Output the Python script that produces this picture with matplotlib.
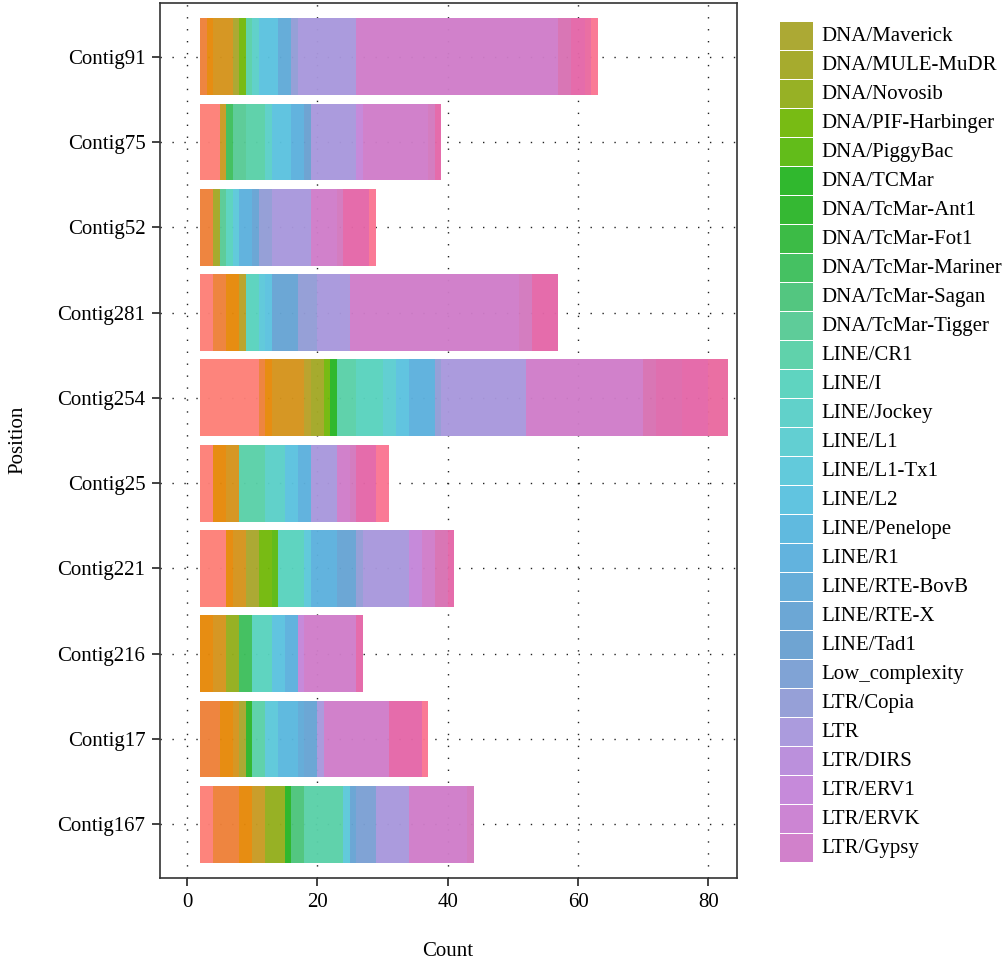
import numpy as np
import matplotlib.pyplot as plt
from matplotlib.patches import Rectangle

plt.rcParams['font.family'] = ['Liberation Serif', 'DejaVu Serif']

# repeat classes in factor order (stacking order, left to right)
categories = [
    "DNA", "DNA/CMC-EnSpm", "DNA/Crypton", "DNA/Ginger", "DNA/hAT", "DNA/hAT-Ac",
    "DNA/hAT-Charlie", "DNA/hAT-Tip100",
    "DNA/Maverick", "DNA/MULE-MuDR", "DNA/Novosib", "DNA/PIF-Harbinger", "DNA/PiggyBac",
    "DNA/TCMar", "DNA/TcMar-Ant1", "DNA/TcMar-Fot1", "DNA/TcMar-Mariner",
    "DNA/TcMar-Sagan", "DNA/TcMar-Tigger",
    "LINE/CR1", "LINE/I", "LINE/Jockey", "LINE/L1", "LINE/L1-Tx1", "LINE/L2",
    "LINE/Penelope", "LINE/R1", "LINE/RTE-BovB", "LINE/RTE-X", "LINE/Tad1",
    "Low_complexity", "LTR/Copia", "LTR", "LTR/DIRS", "LTR/ERV1", "LTR/ERVK", "LTR/Gypsy",
    "LTR/Ngaro", "LTR/Pao", "RC/Helitron", "Satellite", "Simple_repeat", "SINE/Alu", "Unknown",
]
# only this slice of the key is shown
legend_from, legend_to = "DNA/Maverick", "LTR/Gypsy"

colors = [
    "#FD7F77", "#F47F55", "#EE8038", "#E68808", "#DE8E12", "#D5931B", "#C89A22", "#B8A026",
    "#A9A62B", "#A3A825", "#93AE1C", "#72B80A", "#5CBA10", "#27B525", "#2DB52A",
    "#34B83E", "#3DBF5B", "#4CC47B", "#57CA95",
    "#59D0A8", "#58D3BE", "#5ACFC8", "#5CCDD0", "#5BC8DA", "#5AC2DF", "#59B7DE",
    "#5CB0DD", "#60AAD8", "#66A4D4", "#69A0D1",
    "#7B9FD4", "#929CD6", "#A897DC", "#B98CDB", "#C485D9", "#CA80D2", "#CF7CC9",
    "#D378BE", "#D870B2", "#DE69AC", "#E466A8", "#EA699F", "#F27096", "#FA7592",
]

contigs = ["Contig167", "Contig17", "Contig216", "Contig221", "Contig25",
           "Contig254", "Contig281", "Contig52", "Contig75", "Contig91"]
start = 2  # bars begin at position 2

contig167 = {"DNA": 2, "DNA/Crypton": 4, "DNA/Ginger": 2, "DNA/hAT-Charlie": 2,
             "DNA/Novosib": 3, "DNA/TCMar": 1, "DNA/TcMar-Sagan": 2, "LINE/CR1": 6,
             "LINE/L1-Tx1": 1, "LINE/RTE-X": 1, "Low_complexity": 3, "LTR": 5,
             "LTR/Gypsy": 9, "LTR/Ngaro": 1}
contig17 = {"DNA/Crypton": 3, "DNA/Ginger": 2, "DNA/hAT-Ac": 1, "DNA/Maverick": 1,
            "DNA/TcMar-Ant1": 1, "LINE/CR1": 2, "LINE/L1-Tx1": 2, "LINE/Penelope": 3,
            "LINE/RTE-BovB": 1, "LINE/RTE-X": 2, "LTR": 1, "LTR/Gypsy": 10,
            "Satellite": 5, "Unknown": 1}
contig216 = {"DNA/Ginger": 2, "DNA/hAT-Ac": 2, "DNA/Novosib": 2, "DNA/TcMar-Mariner": 2,
             "LINE/I": 3, "LINE/L2": 2, "LINE/R1": 2, "LTR/ERV1": 1, "LTR/Gypsy": 8,
             "Satellite": 1}
contig221 = {"DNA": 4, "DNA/Ginger": 1, "DNA/hAT-Ac": 2, "DNA/Maverick": 2,
             "DNA/PIF-Harbinger": 2, "DNA/PiggyBac": 1, "LINE/I": 4, "LINE/L1-Tx1": 1,
             "LINE/R1": 4, "LINE/RTE-X": 3, "LTR/Copia": 1, "LTR": 7, "LTR/ERV1": 2,
             "LTR/Gypsy": 2, "LTR/Pao": 2, "Satellite": 1}
contig25 = {"DNA": 2, "DNA/Ginger": 2, "DNA/hAT-Ac": 2, "LINE/CR1": 4, "LINE/Jockey": 3,
            "LINE/L2": 2, "LINE/R1": 2, "LTR": 4, "LTR/Gypsy": 2, "LTR/Ngaro": 1,
            "Satellite": 3, "Unknown": 2}
contig254 = {"DNA": 9, "DNA/Crypton": 1, "DNA/Ginger": 1, "DNA/hAT-Ac": 5,
             "DNA/hAT-Tip100": 1, "DNA/MULE-MuDR": 2, "DNA/PIF-Harbinger": 1,
             "DNA/TCMar": 1, "LINE/CR1": 3, "LINE/I": 4, "LINE/L1": 2, "LINE/L2": 2,
             "LINE/R1": 4, "LTR/Copia": 1, "LTR": 13, "LTR/Gypsy": 18, "LTR/Pao": 2,
             "RC/Helitron": 4, "Satellite": 4, "Simple_repeat": 3}
contig281 = {"DNA": 2, "DNA/Crypton": 2, "DNA/Ginger": 2, "DNA/hAT-Tip100": 1,
             "LINE/I": 2, "LINE/L1-Tx1": 1, "LINE/L2": 1, "LINE/RTE-X": 4,
             "LTR/Copia": 3, "LTR": 5, "LTR/Gypsy": 26, "LTR/Ngaro": 2, "Satellite": 4}
contig52 = {"DNA/Crypton": 2, "DNA/MULE-MuDR": 1, "DNA/TcMar-Tigger": 1, "LINE/I": 1,
            "LINE/L1-Tx1": 1, "LINE/R1": 2, "LINE/RTE-X": 1, "LTR/Copia": 2, "LTR": 6,
            "LTR/Gypsy": 4, "LTR/Ngaro": 1, "Satellite": 4, "Unknown": 1}
contig75 = {"DNA": 3, "DNA/hAT-Charlie": 1, "DNA/TcMar-Mariner": 1, "DNA/TcMar-Tigger": 2,
            "LINE/CR1": 3, "LINE/Jockey": 1, "LINE/L2": 3, "LINE/R1": 2, "LINE/Tad1": 1,
            "LTR": 7, "LTR/ERV1": 1, "LTR/Gypsy": 10, "LTR/Ngaro": 1, "Satellite": 1}
contig91 = {"DNA/Crypton": 1, "DNA/Ginger": 1, "DNA/hAT-Ac": 3, "DNA/Maverick": 1,
            "DNA/PIF-Harbinger": 1, "LINE/CR1": 1, "LINE/Jockey": 1, "LINE/L2": 3,
            "LINE/RTE-BovB": 2, "LTR/Copia": 1, "LTR": 9, "LTR/Gypsy": 31, "LTR/Pao": 2,
            "Satellite": 2, "Simple_repeat": 1, "Unknown": 1}

counts = [contig167, contig17, contig216, contig221, contig25,
          contig254, contig281, contig52, contig75, contig91]

W, H = 1008, 966
fig = plt.figure(figsize=(W / 100, H / 100), dpi=100)
ax = fig.add_axes([160 / W, 88 / H, 577 / W, 875 / H])

M = np.array([[d.get(c, 0) for c in categories] for d in counts], dtype=float)
lefts = start + np.cumsum(M, axis=1) - M
y = np.arange(len(contigs))
for k, cat in enumerate(categories):
    ax.barh(y, M[:, k], left=lefts[:, k], height=0.9, color=colors[k],
            alpha=0.96, linewidth=0, zorder=2)

ax.set_xlim(-4.15, 84.4)
ax.set_ylim(-0.63, len(contigs) - 1 + 0.63)
ax.set_xticks([0, 20, 40, 60, 80])
ax.set_yticks(y)
ax.set_yticklabels(contigs)
ax.set_axisbelow(True)
ax.grid(True, color='#222222', linestyle=(0, (1, 7.6)), linewidth=1.0)
ax.tick_params(direction='out', length=5.5, width=1.2, labelsize=15, pad=5,
               color='#222222')
for s in ax.spines.values():
    s.set_linewidth(1.2)
    s.set_color('#333333')

fig.text(448 / W, 1 - 952 / H, "Count", ha='center', va='center', fontsize=15)
fig.text(18 / W, 1 - 440 / H, "Position", ha='center', va='center',
         rotation=90, fontsize=15)

# key, drawn as a column of swatches on the right
i0, i1 = categories.index(legend_from), categories.index(legend_to)
for j, k in enumerate(range(i0, i1 + 1)):
    top = 22.3 + j * 29.0
    fig.add_artist(Rectangle((780 / W, 1 - (top + 27.5) / H), 32.5 / W, 27.5 / H,
                             transform=fig.transFigure, facecolor=colors[k],
                             alpha=0.96, linewidth=0))
    fig.text(821 / W, 1 - (top + 14) / H, categories[k], ha='left', va='center',
             fontsize=15)

fig.savefig("out.png", dpi=100)
